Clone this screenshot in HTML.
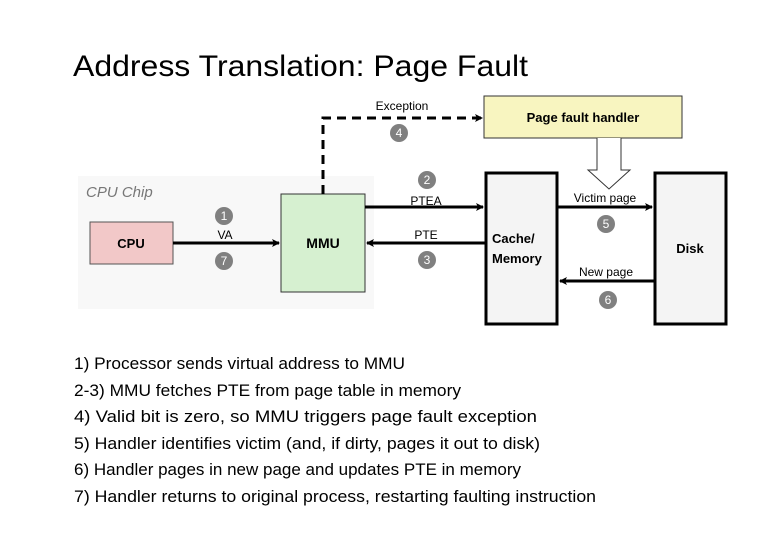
<!DOCTYPE html>
<html><head><style>
body{margin:0;width:780px;height:540px;background:#fff;overflow:hidden;font-family:"Liberation Sans",sans-serif}
</style></head><body>
<svg width="780" height="540" xmlns="http://www.w3.org/2000/svg" style="position:absolute;left:0;top:0">
<defs>
<marker id="a" markerWidth="8" markerHeight="8" refX="7" refY="4" orient="auto" markerUnits="userSpaceOnUse"><path d="M0,0 L8,4 L0,8 L2,4 z" fill="#000"/></marker>
</defs>
<text x="73" y="76" font-size="30" fill="#000" textLength="455" lengthAdjust="spacingAndGlyphs">Address Translation: Page Fault</text>
<rect x="78" y="176" width="296" height="133" fill="#f8f8f8"/>
<text x="86" y="197" font-size="15" font-style="italic" fill="#777">CPU Chip</text>
<rect x="90" y="222" width="83" height="42" fill="#f2c8c8" stroke="#555" stroke-width="1"/>
<text x="131" y="248" font-size="13" font-weight="bold" text-anchor="middle">CPU</text>
<rect x="281" y="194" width="84" height="98" fill="#d6f0d0" stroke="#333" stroke-width="1"/>
<text x="323" y="248" font-size="14" font-weight="bold" text-anchor="middle">MMU</text>
<rect x="484" y="96" width="198" height="42" fill="#f8f5c0" stroke="#333" stroke-width="1"/>
<text x="583" y="122" font-size="13" font-weight="bold" text-anchor="middle">Page fault handler</text>
<rect x="486" y="173" width="71" height="151" fill="#f4f4f4" stroke="#000" stroke-width="3"/>
<text x="492" y="243" font-size="13" font-weight="bold">Cache/</text>
<text x="492" y="263" font-size="13" font-weight="bold">Memory</text>
<rect x="655" y="173" width="71" height="151" fill="#f4f4f4" stroke="#000" stroke-width="3"/>
<text x="690" y="253" font-size="13" font-weight="bold" text-anchor="middle">Disk</text>
<path d="M323,194 V118 H482" fill="none" stroke="#000" stroke-width="3" stroke-dasharray="9,6" marker-end="url(#a)"/>
<text x="402" y="110" font-size="12" text-anchor="middle">Exception</text>
<path d="M597,138 V170 H588 L609,189 L630,170 H621 V138" fill="#fff" stroke="#333" stroke-width="1"/>
<line x1="173" y1="243" x2="279" y2="243" stroke="#000" stroke-width="3" marker-end="url(#a)"/>
<text x="225" y="239" font-size="12" text-anchor="middle">VA</text>
<line x1="365" y1="207" x2="483" y2="207" stroke="#000" stroke-width="3" marker-end="url(#a)"/>
<text x="426" y="205" font-size="12" text-anchor="middle">PTEA</text>
<line x1="485" y1="243" x2="367" y2="243" stroke="#000" stroke-width="3" marker-end="url(#a)"/>
<text x="426" y="239" font-size="12" text-anchor="middle">PTE</text>
<line x1="557" y1="207" x2="652" y2="207" stroke="#000" stroke-width="3" marker-end="url(#a)"/>
<text x="605" y="202" font-size="12" text-anchor="middle">Victim page</text>
<line x1="654" y1="281" x2="560" y2="281" stroke="#000" stroke-width="3" marker-end="url(#a)"/>
<text x="606" y="276" font-size="12" text-anchor="middle">New page</text>
<g fill="#808080"><circle cx="224" cy="216" r="9"/><circle cx="224" cy="261" r="9"/><circle cx="399" cy="133" r="9"/><circle cx="427" cy="180" r="9"/><circle cx="427" cy="260" r="9"/><circle cx="606" cy="224" r="9"/><circle cx="608" cy="300" r="9"/></g>
<g fill="#fff" font-size="12" text-anchor="middle"><text x="224" y="220">1</text><text x="224" y="265">7</text><text x="399" y="137">4</text><text x="427" y="184">2</text><text x="427" y="264">3</text><text x="606" y="228">5</text><text x="608" y="304">6</text></g>
<g font-size="17" fill="#000" lengthAdjust="spacingAndGlyphs">
<text x="74" y="369" textLength="331" lengthAdjust="spacingAndGlyphs">1) Processor sends virtual address to MMU</text>
<text x="74" y="396" textLength="387" lengthAdjust="spacingAndGlyphs">2-3) MMU fetches PTE from page table in memory</text>
<text x="74" y="422" textLength="463" lengthAdjust="spacingAndGlyphs">4) Valid bit is zero, so MMU triggers page fault exception</text>
<text x="74" y="449" textLength="466" lengthAdjust="spacingAndGlyphs">5) Handler identifies victim (and, if dirty, pages it out to disk)</text>
<text x="74" y="475" textLength="447" lengthAdjust="spacingAndGlyphs">6) Handler pages in new page and updates PTE in memory</text>
<text x="74" y="502" textLength="522" lengthAdjust="spacingAndGlyphs">7) Handler returns to original process, restarting faulting instruction</text>
</g>
</svg>
</body></html>
